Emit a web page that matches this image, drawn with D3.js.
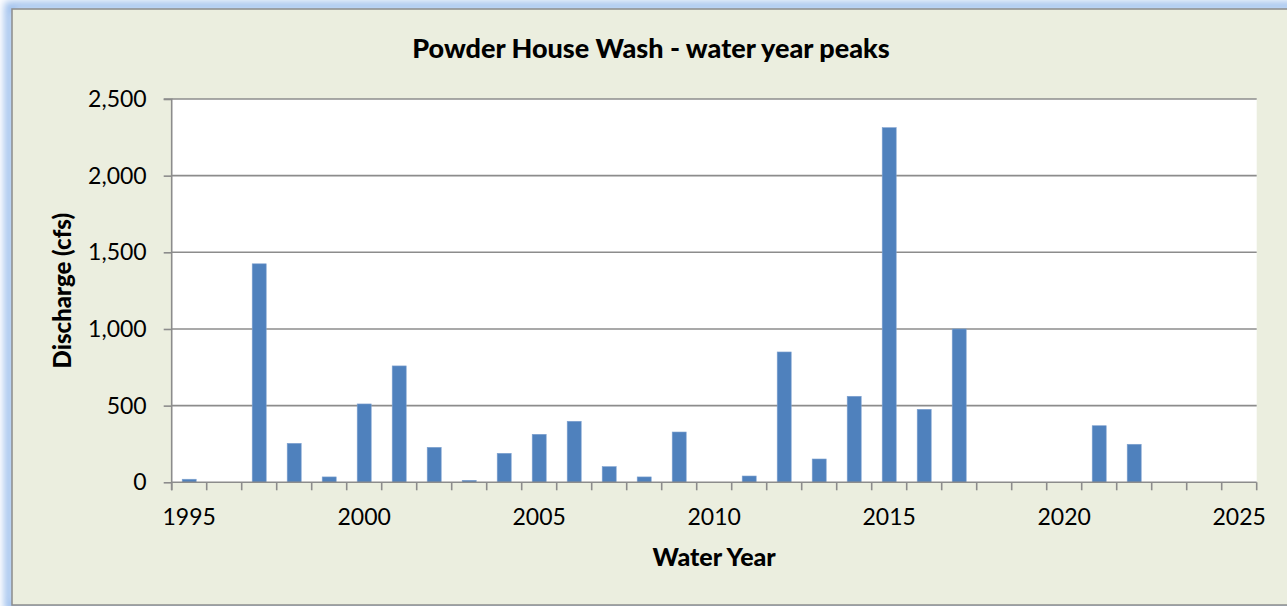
<!DOCTYPE html>
<html>
<head>
<meta charset="utf-8">
<script src="https://cdn.jsdelivr.net/npm/d3@7/dist/d3.min.js"></script>
<style>
  html, body { margin: 0; padding: 0; background: #ffffff; overflow: hidden; }
  svg { display: block; }
  text { font-family: Lato, "Open Sans", sans-serif; fill: #000; }
</style>
</head>
<body>
<svg id="chart" width="1287" height="606"></svg>
<script>
// ---- data ----
const years = d3.range(1995, 2026); // categories 1995..2025
const peakYears = [1995, 1997, 1998, 1999, 2000, 2001, 2002, 2003, 2004, 2005, 2006, 2007, 2008, 2009, 2011, 2012, 2013, 2014, 2015, 2016, 2017, 2021, 2022];
const peakValues = [20, 1425, 254, 35, 511, 759, 228, 13, 189, 313, 398, 102, 35, 328, 41, 850, 152, 561, 2313, 476, 1000, 369, 248];
const yTicks = [0, 500, 1000, 1500, 2000, 2500];
const xLabelYears = [1995, 2000, 2005, 2010, 2015, 2020, 2025];
const titleText = "Powder House Wash - water year peaks";
const xTitle = "Water Year";
const yTitle = "Discharge (cfs)";

const svg = d3.select("#chart");

// ---- chart area frame with blue glow ----
const defs = svg.append("defs");
const f = defs.append("filter").attr("id", "glow").attr("x", "-5%").attr("y", "-10%").attr("width", "110%").attr("height", "120%");
f.append("feGaussianBlur").attr("stdDeviation", 4);

const frame = { x: 12, y: 9, w: 1290, h: 596 };
svg.append("rect")
  .attr("x", frame.x - 3).attr("y", frame.y - 3)
  .attr("width", frame.w + 6).attr("height", frame.h + 6)
  .attr("fill", "none").attr("stroke", "#8fb6ea").attr("stroke-width", 8)
  .attr("filter", "url(#glow)");
svg.append("rect")
  .attr("x", frame.x).attr("y", frame.y)
  .attr("width", frame.w).attr("height", frame.h)
  .attr("fill", "#ebeedf").attr("stroke", "#8c8c8c").attr("stroke-width", 1.5);

// ---- plot area ----
const plot = { left: 171.7, right: 1256.7, top: 99, bottom: 482.3 };

const xBand = d3.scaleBand().domain(years).range([plot.left, plot.right]).padding(0);
const y = d3.scaleLinear().domain([0, 2500]).range([plot.bottom, plot.top]);

svg.append("rect")
  .attr("x", plot.left).attr("y", plot.top)
  .attr("width", plot.right - plot.left).attr("height", plot.bottom - plot.top)
  .attr("fill", "#ffffff");

// gridlines
svg.append("g").selectAll("line").data(yTicks.filter(d => d > 0)).join("line")
  .attr("x1", plot.left).attr("x2", plot.right)
  .attr("y1", d => y(d)).attr("y2", d => y(d))
  .attr("stroke", "#8c8c8c").attr("stroke-width", 1.6);

// bars
const barData = peakYears.map((yr, i) => ({ year: yr, value: peakValues[i] }));
const bw = xBand.bandwidth() / 2.5;
svg.append("g").selectAll("rect").data(barData).join("rect")
  .attr("x", d => xBand(d.year) + (xBand.bandwidth() - bw) / 2)
  .attr("width", bw)
  .attr("y", d => y(d.value))
  .attr("height", d => y(0) - y(d.value))
  .attr("fill", "#4f81bd")
  .attr("stroke", "#7ea1cf").attr("stroke-width", 0.6);

// y axis
const yAxis = d3.axisLeft(y).tickValues(yTicks).tickSize(8).tickPadding(17)
  .tickFormat(d3.format(","));
const gy = svg.append("g").attr("transform", `translate(${plot.left},0)`).call(yAxis);
gy.select(".domain").attr("stroke", "#8c8c8c").attr("stroke-width", 1.6)
  .attr("d", `M-8,${plot.top}H0V${plot.bottom + 8}`);
gy.selectAll(".tick line").attr("stroke", "#8c8c8c").attr("stroke-width", 1.6);
gy.selectAll(".tick text").style("font-family", "Lato, sans-serif").style("font-size", "23px").attr("fill", "#000");

// x axis: tick marks at category boundaries
const boundaries = years.map(yr => xBand(yr)).concat([plot.right]);
const gx = svg.append("g");
gx.append("line").attr("x1", plot.left).attr("x2", plot.right)
  .attr("y1", plot.bottom).attr("y2", plot.bottom)
  .attr("stroke", "#8c8c8c").attr("stroke-width", 1.6);
gx.selectAll("line.tk").data(boundaries).join("line").attr("class", "tk")
  .attr("x1", d => d).attr("x2", d => d)
  .attr("y1", plot.bottom).attr("y2", plot.bottom + 8)
  .attr("stroke", "#8c8c8c").attr("stroke-width", 1.6);
gx.selectAll("text").data(xLabelYears).join("text")
  .attr("x", d => xBand(d) + xBand.bandwidth() / 2)
  .attr("y", 525)
  .attr("text-anchor", "middle")
  .style("font-size", "23px")
  .text(d => d);

// titles
svg.append("text").attr("x", 651).attr("y", 58).attr("text-anchor", "middle")
  .style("font-size", "27px").style("font-weight", "900").text(titleText);
svg.append("text").attr("x", (plot.left + plot.right) / 2).attr("y", 566).attr("text-anchor", "middle")
  .style("font-size", "25px").style("font-weight", "900").text(xTitle);
svg.append("text").attr("transform", `translate(71,${(plot.top + plot.bottom) / 2}) rotate(-90)`)
  .attr("text-anchor", "middle")
  .style("font-size", "24px").style("font-weight", "900").text(yTitle);
</script>
</body>
</html>
